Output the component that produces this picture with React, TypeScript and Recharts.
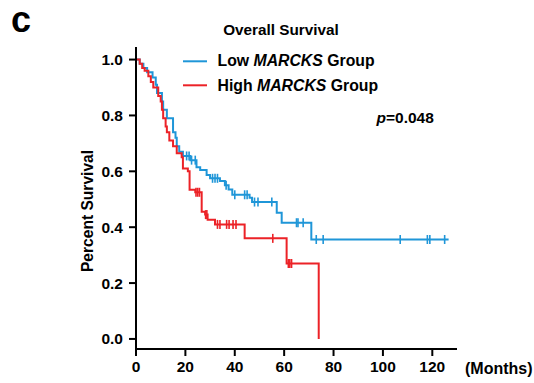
import React from "react";
import {
  ComposedChart,
  Line,
  Scatter,
  XAxis,
  YAxis,
} from "recharts";

// Kaplan-Meier steps (months, survival)
const lowTimes = [0, 1.5, 3, 4.5, 6.7, 8, 8.5, 10.5, 11, 12.5, 15, 16, 16.5, 17.5, 19, 22, 24.5, 26, 28.6, 30, 34, 36, 37.5, 39, 46, 47, 57, 59, 71, 126.6];
const lowSurv = [1, 0.985, 0.97, 0.955, 0.936, 0.91, 0.88, 0.85, 0.82, 0.79, 0.74, 0.72, 0.69, 0.67, 0.655, 0.64, 0.615, 0.605, 0.587, 0.575, 0.565, 0.55, 0.535, 0.516, 0.505, 0.49, 0.452, 0.416, 0.356, 0.356];
const lowCensored = [20.5, 21.5, 22.5, 24, 31, 32, 33, 36.5, 40, 44, 45, 48, 49.4, 55, 65, 65.6, 67.7, 73, 75.8, 107, 118, 119, 125];

const highTimes = [0, 1.5, 2.5, 3.5, 5, 6, 7, 9, 10, 10.5, 11, 12, 12.5, 13.5, 15, 16.5, 18.5, 19, 21, 21.7, 24, 26.6, 28, 29, 32, 44, 61, 74];
const highSurv = [1, 0.985, 0.97, 0.96, 0.94, 0.92, 0.9, 0.87, 0.85, 0.82, 0.79, 0.76, 0.74, 0.71, 0.69, 0.665, 0.65, 0.61, 0.6, 0.534, 0.525, 0.455, 0.445, 0.427, 0.41, 0.36, 0.27, 0];
const highCensored = [24.3, 25, 25.7, 28.2, 28.7, 33, 34, 36.7, 37.7, 39.3, 40.5, 55.4, 61.7, 62.3, 63];

const xTicks = [0, 20, 40, 60, 80, 100, 120];
const yTicks = [0, 0.2, 0.4, 0.6, 0.8, 1.0];

const BLUE = "#1f96d8";
const RED = "#ec2227";
const FONT = "'Liberation Sans', Arial, sans-serif";

const toSteps = (times: number[], surv: number[]) =>
  times.map((t, i) => ({ t, s: surv[i] }));

// survival value at time t on a step curve
const survAt = (times: number[], surv: number[], t: number) => {
  let v = surv[0];
  for (let i = 0; i < times.length; i++) {
    if (times[i] <= t) v = surv[i];
  }
  return v;
};

const toCensors = (times: number[], surv: number[], cens: number[]) =>
  cens.map((t) => ({ t, s: survAt(times, surv, t) }));

const lowData = toSteps(lowTimes, lowSurv);
const highData = toSteps(highTimes, highSurv);
const lowCens = toCensors(lowTimes, lowSurv, lowCensored);
const highCens = toCensors(highTimes, highSurv, highCensored);

const censorMark = (color: string) => (props: any) => {
  const { cx, cy } = props;
  if (cx == null || cy == null) return <g />;
  return (
    <line x1={cx} x2={cx} y1={cy - 4.5} y2={cy + 4.5} stroke={color} strokeWidth={1.6} />
  );
};

const tickStyle = {
  fontFamily: FONT,
  fontWeight: 700,
  fontSize: 15.5,
  fill: "#000",
};

export default function App() {
  return (
    <div style={{ position: "absolute", left: 0, top: 0, width: 534, height: 383, background: "#fff" }}>
      <ComposedChart
        width={534}
        height={383}
        margin={{ top: 47, right: 77, bottom: 0, left: 0 }}
      >
        <XAxis
          type="number"
          dataKey="t"
          domain={[0, 130]}
          ticks={xTicks}
          allowDataOverflow
          height={34}
          tickSize={7}
          tickMargin={5}
          axisLine={{ stroke: "#000", strokeWidth: 2 }}
          tickLine={{ stroke: "#000", strokeWidth: 2 }}
          tick={tickStyle}
        />
        <YAxis
          type="number"
          domain={[-0.036, 1.045]}
          ticks={yTicks}
          allowDataOverflow
          width={136}
          tickSize={7}
          tickMargin={6}
          axisLine={{ stroke: "#000", strokeWidth: 2 }}
          tickLine={{ stroke: "#000", strokeWidth: 2 }}
          tick={tickStyle}
          tickFormatter={(v: number) => v.toFixed(1)}
        />
        <Line
          data={lowData}
          dataKey="s"
          type="stepAfter"
          stroke={BLUE}
          strokeWidth={2}
          dot={false}
          activeDot={false}
          isAnimationActive={false}
        />
        <Line
          data={highData}
          dataKey="s"
          type="stepAfter"
          stroke={RED}
          strokeWidth={2}
          dot={false}
          activeDot={false}
          isAnimationActive={false}
        />
        <Scatter data={lowCens} dataKey="s" shape={censorMark(BLUE)} isAnimationActive={false} />
        <Scatter data={highCens} dataKey="s" shape={censorMark(RED)} isAnimationActive={false} />
      </ComposedChart>

      {/* annotations on top of the chart */}
      <svg
        width={534}
        height={383}
        style={{ position: "absolute", left: 0, top: 0, pointerEvents: "none" }}
        fontFamily={FONT}
        fontWeight={700}
      >
        <text x={11} y={32} fontSize={36}>c</text>
        <text x={281} y={35} fontSize={15.3} textAnchor="middle">Overall Survival</text>

        <line x1={183} x2={207} y1={61.3} y2={61.3} stroke={BLUE} strokeWidth={2} />
        <text x={217.5} y={66.3} fontSize={15.8}>
          Low <tspan fontStyle="italic">MARCKS</tspan> Group
        </text>
        <line x1={183} x2={207} y1={85.3} y2={85.3} stroke={RED} strokeWidth={2} />
        <text x={217.5} y={90.7} fontSize={15.8}>
          High <tspan fontStyle="italic">MARCKS</tspan> Group
        </text>

        <text x={376.5} y={122.5} fontSize={15.5}>
          <tspan fontStyle="italic">p</tspan>=0.048
        </text>

        <text x={465} y={374} fontSize={16}>(Months)</text>
        <text x={93} y={211} fontSize={15.6} textAnchor="middle" transform="rotate(-90 93 211)">
          Percent Survival
        </text>
      </svg>
    </div>
  );
}
